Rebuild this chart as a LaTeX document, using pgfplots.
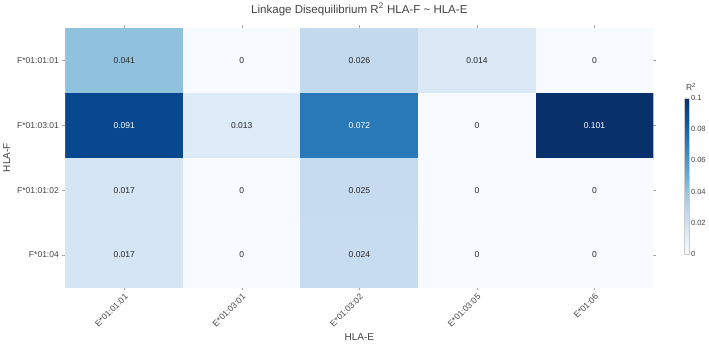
\documentclass[border=0pt]{standalone}
\usepackage{fontspec}
\setmainfont{Liberation Sans}
\usepackage{pgfplots}
\pgfplotsset{compat=1.18}
\definecolor{txtgray}{RGB}{68,68,68}
\begin{document}
\begin{tikzpicture}
\begin{axis}[
  scale only axis,
  width=586pt, height=258pt,
  xmin=-0.5, xmax=4.5, ymin=-0.5, ymax=3.5,
  y dir=reverse,
  enlargelimits=false,
  axis line style={draw=none},
  tick align=outside,
  major tick length=3pt,
  tick style={color=gray!70, thin},
  xtick={0,1,2,3,4},
  xticklabels={E*01:01:01,E*01:03:01,E*01:03:02,E*01:03:05,E*01:06},
  ytick={0,1,2,3},
  yticklabels={F*01:01:01,F*01:03:01,F*01:01:02,F*01:04},
  x tick label style={rotate=45, anchor=north east, font=\fontsize{8.5}{10}\selectfont, color=txtgray, inner sep=2pt},
  y tick label style={font=\fontsize{8.5}{10}\selectfont, color=txtgray},
  xlabel={HLA-E}, ylabel={HLA-F},
  xlabel style={font=\fontsize{10}{12}\selectfont, color=txtgray, yshift=0pt},
  ylabel style={font=\fontsize{10}{12}\selectfont, color=txtgray},
  title={Linkage Disequilibrium R\textsuperscript{2} HLA-F \textasciitilde{} HLA-E},
  title style={font=\fontsize{11.5}{13}\selectfont, color=txtgray, yshift=3pt},
  colormap={blues}{rgb255=(247,251,255) rgb255=(222,235,247) rgb255=(198,219,239) rgb255=(158,202,225) rgb255=(107,174,214) rgb255=(66,146,198) rgb255=(33,113,181) rgb255=(8,81,156) rgb255=(8,48,107)},
  point meta min=0, point meta max=0.1,
  colorbar,
  colorbar style={
    at={(1.053,0.73)}, anchor=north west,
    width=5pt, height=155pt,
    ytick={0,0.02,0.04,0.06,0.08,0.1},
    yticklabels={0,0.02,0.04,0.06,0.08,0.1},
    yticklabel pos=right,
    major tick length=0pt,
    axis line style={draw=gray!40},
    yticklabel style={font=\fontsize{7.5}{8}\selectfont, color=txtgray, xshift=-2pt},
    title={R\textsuperscript{2}},
    title style={font=\fontsize{8.5}{9}\selectfont, color=txtgray, at={(0,1)}, anchor=south west, xshift=-2pt, yshift=-2pt},
  },
]
% correlation matrix, rows = HLA-F alleles, columns = HLA-E alleles
\addplot[matrix plot*, mesh/cols=5, point meta=explicit] table[meta=c] {
x y c
0 0 0.041
1 0 0
2 0 0.026
3 0 0.014
4 0 0
0 1 0.091
1 1 0.013
2 1 0.072
3 1 0
4 1 0.101
0 2 0.017
1 2 0
2 2 0.025
3 2 0
4 2 0
0 3 0.017
1 3 0
2 3 0.024
3 3 0
4 3 0
};
% cell labels on light cells
\addplot[draw=none, mark=none, nodes near coords, nodes near coords align=center,
  point meta=explicit symbolic,
  every node near coord/.append style={font=\fontsize{8.5}{10}\selectfont, color=black!85, anchor=center}]
  table[meta=l] {
x y l
0 0 0.041
1 0 0
2 0 0.026
3 0 0.014
4 0 0
1 1 0.013
3 1 0
0 2 0.017
1 2 0
2 2 0.025
3 2 0
4 2 0
0 3 0.017
1 3 0
2 3 0.024
3 3 0
4 3 0
};
% cell labels on dark cells
\addplot[draw=none, mark=none, nodes near coords, nodes near coords align=center,
  point meta=explicit symbolic,
  every node near coord/.append style={font=\fontsize{8.5}{10}\selectfont, color=white, anchor=center}]
  table[meta=l] {
x y l
0 1 0.091
2 1 0.072
4 1 0.101
};
\end{axis}
\end{tikzpicture}
\end{document}
